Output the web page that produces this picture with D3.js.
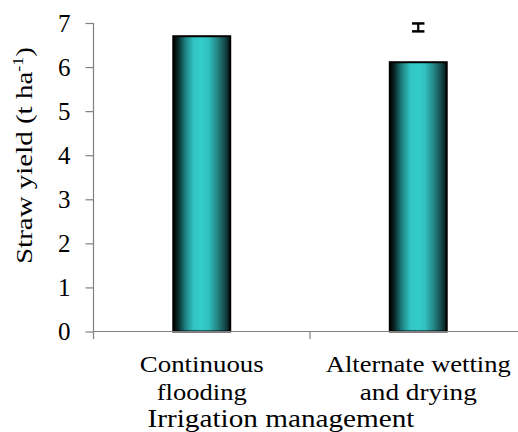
<!DOCTYPE html>
<html>
<head>
<meta charset="utf-8">
<script src="https://cdn.jsdelivr.net/npm/d3@7"></script>
<style>
  html, body { margin: 0; padding: 0; background: #fff; }
  svg { display: block; }
</style>
</head>
<body>
<svg id="chart" width="518" height="432"></svg>
<script>
// ---- data ----
const categories = ["Continuous flooding", "Alternate wetting and drying"];
const categoryLines = [["Continuous", "flooding"], ["Alternate wetting", "and drying"]];
const strawYield = [6.70, 6.11];
const errorCenter = [null, 6.90];
const errorHalf = [null, 0.09];
const yTicks = [0, 1, 2, 3, 4, 5, 6, 7];
const yLabelMain = "Straw yield (t ha";
const yLabelSup = "-1";
const yLabelEnd = ")";
const xTitle = "Irrigation management";

// ---- layout ----
const FONT = '"Liberation Serif", "Times New Roman", serif';
const svg = d3.select("#chart");
const axisX = 93.5, yTop = 23, yZero = 331.5;
const x = d3.scaleBand().domain(categories).range([axisX, 526.5]).padding(0);
const y = d3.scaleLinear().domain([0, 7]).range([yZero, yTop]);
const barFrac = 0.263;
const axisColor = "#808080";
// rendered widths of the labels (reference font is wider than Liberation Serif)
const labelWidth = {
  "Continuous": 124, "flooding": 90, "Alternate wetting": 185, "and drying": 117,
  "Irrigation management": 267, "ylabel": 217
};

// gradient
const defs = svg.append("defs");
const grad = defs.append("linearGradient").attr("id", "barGrad")
  .attr("x1", "0%").attr("x2", "100%").attr("y1", "0%").attr("y2", "0%");
[["0%", "#000000"], ["8%", "#082626"], ["22%", "#1f8585"], ["36%", "#31c4c4"],
 ["50%", "#35cccc"], ["62%", "#31c0c0"], ["78%", "#248282"], ["92%", "#134242"], ["100%", "#061212"]]
  .forEach(([o, c]) => grad.append("stop").attr("offset", o).attr("stop-color", c));

// bars
const bw = x.bandwidth() * barFrac;
svg.append("g").selectAll("rect").data(categories).join("rect")
  .attr("x", d => x(d) + x.bandwidth() / 2 - bw / 2)
  .attr("y", (d, i) => y(strawYield[i]))
  .attr("width", bw)
  .attr("height", (d, i) => y(0) - y(strawYield[i]))
  .attr("fill", "url(#barGrad)")
  .attr("stroke", "#000").attr("stroke-width", 2);

// error bars
const eg = svg.append("g").attr("stroke", "#000");
categories.forEach((c, i) => {
  if (errorCenter[i] == null) return;
  const cx = x(c) + x.bandwidth() / 2;
  const lo = y(errorCenter[i] - errorHalf[i]), hi = y(errorCenter[i] + errorHalf[i]);
  eg.append("line").attr("x1", cx).attr("x2", cx).attr("y1", lo).attr("y2", hi).attr("stroke-width", 2.2);
  eg.append("line").attr("x1", cx - 6.2).attr("x2", cx + 6.2).attr("y1", lo).attr("y2", lo).attr("stroke-width", 2.5);
  eg.append("line").attr("x1", cx - 6.2).attr("x2", cx + 6.2).attr("y1", hi).attr("y2", hi).attr("stroke-width", 2.5);
});

// y axis
const yAxis = svg.append("g").attr("transform", `translate(${axisX},0)`)
  .call(d3.axisLeft(y).tickValues(yTicks).tickFormat(d3.format("d")).tickSize(8).tickPadding(15));
yAxis.select(".domain").attr("stroke", axisColor).attr("stroke-width", 1.2).attr("d", `M0,${yTop}V${yZero}`);
yAxis.selectAll(".tick line").attr("stroke", axisColor).attr("stroke-width", 1.2);
yAxis.selectAll(".tick text").style("font-family", FONT).style("font-size", "25px")
  .attr("fill", "#000").attr("dy", "0.32em");

// x axis
const xg = svg.append("g");
xg.append("line").attr("x1", axisX).attr("x2", 526.5).attr("y1", yZero).attr("y2", yZero)
  .attr("stroke", axisColor).attr("stroke-width", 1.2);
const bounds = categories.map(c => x(c)).concat([x.range()[1]]);
xg.selectAll("line.tk").data(bounds).join("line").attr("class", "tk")
  .attr("x1", d => d).attr("x2", d => d).attr("y1", yZero).attr("y2", yZero + 7.5)
  .attr("stroke", axisColor).attr("stroke-width", 1.2);

function fit(sel, w) {
  sel.attr("textLength", w).attr("lengthAdjust", "spacingAndGlyphs");
}

// category labels
categories.forEach((c, i) => {
  const cx = x(c) + x.bandwidth() / 2;
  categoryLines[i].forEach((ln, j) => {
    const t = svg.append("text").attr("x", cx).attr("y", 372 + j * 28)
      .attr("text-anchor", "middle").style("font-family", FONT).style("font-size", "24px").text(ln);
    fit(t, labelWidth[ln]);
  });
});

// x title
const xt = svg.append("text").attr("x", 281).attr("y", 426.5)
  .attr("text-anchor", "middle").style("font-family", FONT).style("font-size", "25px").text(xTitle);
fit(xt, labelWidth[xTitle]);

// y title
const yl = svg.append("text").attr("transform", "translate(32,155.5) rotate(-90)")
  .attr("text-anchor", "middle").style("font-family", FONT).style("font-size", "24px");
yl.append("tspan").text(yLabelMain);
yl.append("tspan").style("font-size", "15px").attr("dy", -9).text(yLabelSup);
yl.append("tspan").attr("dy", 9).text(yLabelEnd);
fit(yl, labelWidth.ylabel);
</script>
</body>
</html>
